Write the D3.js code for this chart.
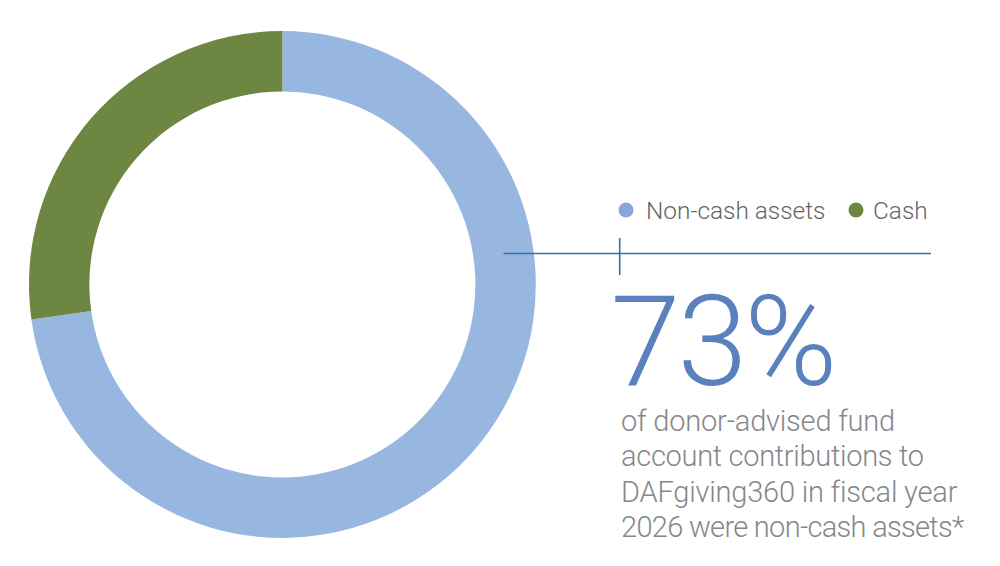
<!DOCTYPE html>
<html><head><meta charset="utf-8">
<script src="https://cdn.jsdelivr.net/npm/d3@7"></script>
<style>html,body{margin:0;padding:0;background:#fff}svg{display:block}text{font-family:"Roboto","Liberation Sans",sans-serif;font-weight:300}</style>
</head><body><svg id="c" width="1000" height="566"></svg>
<script>
const categories=["Non-cash assets","Cash"];
const values=[72.8,27.2];
const colors=["#97b6e0","#6d8642"];
const legendColors=["#8aa5d6","#6d8642"];
const headline="73%";
const bodyLines=["of donor-advised fund","account contributions to","DAFgiving360 in fiscal year","2026 were non-cash assets*"];
const bodyTracking=[-0.2,-0.3,-0.2,-0.7];
const svg=d3.select("#c");
const pie=d3.pie().sort(null)(values);
const arc=d3.arc().innerRadius(193).outerRadius(253.4);
svg.append("g").attr("transform","translate(282.4,284.5)").selectAll("path").data(pie).join("path")
 .attr("d",arc).attr("fill",(d,i)=>colors[i]);
const lx=[626,856],tx=[646,873];
categories.forEach((c,i)=>{
 svg.append("circle").attr("cx",lx[i]).attr("cy",210).attr("r",7.5).attr("fill",legendColors[i]);
 svg.append("text").attr("x",tx[i]).attr("y",219).attr("font-size",24.4).attr("fill","#62656a").text(c);
});
svg.append("line").attr("x1",503.5).attr("x2",931).attr("y1",253.5).attr("y2",253.5).attr("stroke","#2a72b5").attr("stroke-width",1.6);
svg.append("line").attr("x1",619.7).attr("x2",619.7).attr("y1",238).attr("y2",275).attr("stroke","#2a72b5").attr("stroke-width",1.6);
svg.append("text").attr("x",610.5).attr("y",385).attr("font-size",126).attr("letter-spacing",-3).attr("font-weight",300).attr("fill","#5a80bd").text(headline);
bodyLines.forEach((t,i)=>svg.append("text").attr("x",621).attr("y",431+i*35.3).attr("font-size",29).attr("letter-spacing",bodyTracking[i]).attr("fill","#85878b").text(t));
</script></body></html>
